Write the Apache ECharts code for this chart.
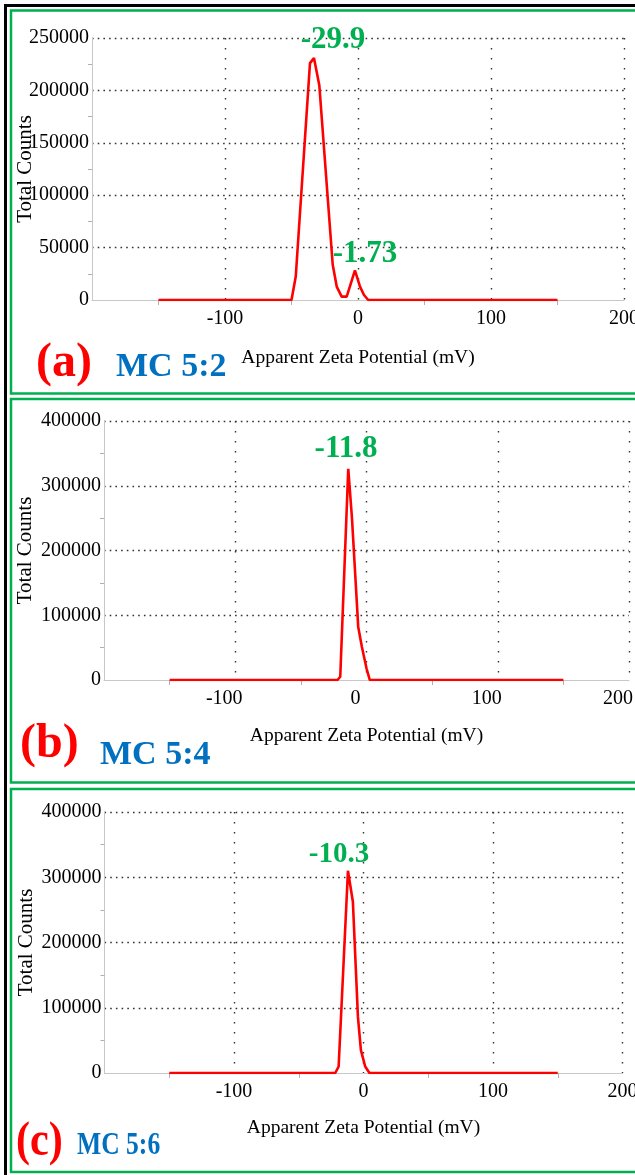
<!DOCTYPE html>
<html>
<head>
<meta charset="utf-8">
<script src="https://cdn.jsdelivr.net/npm/echarts@6/dist/echarts.min.js"></script>
<style>
html,body{margin:0;padding:0;background:#fff;}
#chart{width:635px;height:1175px;}
</style>
</head>
<body>
<div id="chart"></div>
<script>
// ---- data ----
const xTickLabels = ['-100', '0', '100', '200'];
const xA = [-150, -50, -46.8, -36.1, -33.1, -29.1, -19.0, -16.0, -12.3, -8.5, -2.3, 1.5, 4.5, 7.7, 150];
const yA = [0, 0, 22400, 226000, 230800, 205000, 33650, 12800, 3200, 3200, 28200, 12800, 4800, 0, 0];
const xB = [-150, -22.1, -20, -13.9, -11.1, -6.3, -3.5, 0, 2.5, 150];
const yB = [0, 0, 5000, 326000, 251000, 82000, 51000, 18000, 0, 0];
const xC = [-150, -21.8, -19.2, -12.0, -8.2, -4.3, -2.0, 1.3, 4.6, 150];
const yC = [0, 0, 10000, 310000, 262500, 86000, 35000, 10000, 0, 0];
const peakLabelsA = ['-29.9', '-1.73'];
const peakLabelsB = ['-11.8'];
const peakLabelsC = ['-10.3'];
const panelTags = ['(a)', '(b)', '(c)'];
const sampleNames = ['MC 5:2', 'MC 5:4', 'MC 5:6'];
const xTitle = 'Apparent Zeta Potential (mV)';
const yTitle = 'Total Counts';

const FONT = "'Liberation Serif','Times New Roman',serif";
const GREEN = '#00b050', BLUE = '#0070c0', RED = '#ff0000';

function pairs(xs, ys){ return xs.map((x,i)=>[x, ys[i]]); }

const grids = [
  {left:92, top:38, width:532, height:262, outerBoundsMode:'none', containLabel:false},
  {left:104, top:421, width:525, height:259, outerBoundsMode:'none', containLabel:false},
  {left:104.5, top:812, width:518, height:261, outerBoundsMode:'none', containLabel:false}
];
const yMax = [250000, 400000, 400000];
const yInt = [50000, 100000, 100000];
const yNameGap = [56, 68, 68];
const xNameGap = [48, 46, 45];
const xLabelPad = [[0,0,0,0],[0,22,0,0],[0,0,0,0]];

const xAxes = grids.map((g,i)=>({
  type:'value', gridIndex:i, min:-200, max:200, interval:100,
  axisLine:{show:true, onZero:false, lineStyle:{color:'#c8c8c8', width:1}},
  axisTick:{show:false},
  minorTick:{show:true, splitNumber:2, length:5, lineStyle:{color:'#b0b0b0'}},
  axisLabel:{show:true, showMinLabel:false, hideOverlap:false, color:'#000', fontFamily:FONT, fontSize:20, margin:9, padding:xLabelPad[i],
    formatter:(v)=> xTickLabels.indexOf(String(v))>=0 ? String(v) : ''},
  splitLine:{show:true, showMinLine:false, lineStyle:{type:[1.6,8.4], color:'#333', width:1.4}},
  name:xTitle, nameLocation:'middle', nameGap:xNameGap[i], nameMoveOverlap:false,
  nameTextStyle:{color:'#000', fontFamily:FONT, fontSize:19.5}
}));
const yAxes = grids.map((g,i)=>({
  type:'value', gridIndex:i, min:0, max:yMax[i], interval:yInt[i],
  axisLine:{show:true, onZero:false, lineStyle:{color:'#c8c8c8', width:1}},
  axisTick:{show:false},
  minorTick:{show:true, splitNumber:2, length:4, lineStyle:{color:'#b0b0b0'}},
  axisLabel:{color:'#000', fontFamily:FONT, fontSize:20, margin:3, formatter:(v)=>String(v)},
  splitLine:{show:true, showMinLine:false, lineStyle:{type:[1.6,4.1], color:'#333', width:1.4}},
  name:yTitle, nameLocation:'middle', nameGap:yNameGap[i], nameMoveOverlap:false,
  nameTextStyle:{color:'#000', fontFamily:FONT, fontSize:21}
}));

const seriesData = [pairs(xA,yA), pairs(xB,yB), pairs(xC,yC)];
const series = seriesData.map((d,i)=>({
  type:'line', xAxisIndex:i, yAxisIndex:i, data:d, symbol:'none', smooth:false,
  lineStyle:{color:RED, width:2.6}, animation:false
}));

function txt(text, x, y, size, color, bold, sx){
  return {type:'text', x:x, y:y, scaleX:sx||1, z:100,
    style:{text:text, fontFamily:FONT, fontSize:size, fontWeight:bold?'bold':'normal', fill:color,
      align:'left', verticalAlign:'middle'}};
}
function ctxt(text, x, y, size, color){
  return {type:'text', x:x, y:y, z:100,
    style:{text:text, fontFamily:FONT, fontSize:size, fontWeight:'bold', fill:color,
      align:'center', verticalAlign:'middle'}};
}

const panels = [{y:10.5,h:383},{y:399,h:383.5},{y:789,h:383}];
const graphic = [
  {type:'rect', shape:{x:5.5,y:5.5,width:700,height:1200}, style:{fill:'none', stroke:'#000', lineWidth:3}, z:50},
  ...panels.map(p=>({type:'rect', shape:{x:11,y:p.y,width:700,height:p.h}, style:{fill:'none', stroke:GREEN, lineWidth:2.5}, z:50})),
  txt(panelTags[0], 36, 364, 48, RED, true, 1),
  txt(sampleNames[0], 116, 367, 34, BLUE, true, 1),
  txt(panelTags[1], 20, 745, 48, RED, true, 1),
  txt(sampleNames[1], 100, 755, 34, BLUE, true, 1),
  txt(panelTags[2], 16, 1143, 48, RED, true, 0.88),
  txt(sampleNames[2], 77, 1146, 32, BLUE, true, 0.8),
  ctxt(peakLabelsA[0], 333, 40, 31, GREEN),
  ctxt(peakLabelsA[1], 365, 254, 31, GREEN),
  ctxt(peakLabelsB[0], 346, 449, 31, GREEN),
  ctxt(peakLabelsC[0], 339, 855, 29, GREEN)
];

const chart = echarts.init(document.getElementById('chart'), null, {renderer:'canvas'});
chart.setOption({
  animation:false,
  backgroundColor:'#fff',
  grid:grids,
  xAxis:xAxes,
  yAxis:yAxes,
  series:series,
  graphic:graphic
});
</script>
</body>
</html>
